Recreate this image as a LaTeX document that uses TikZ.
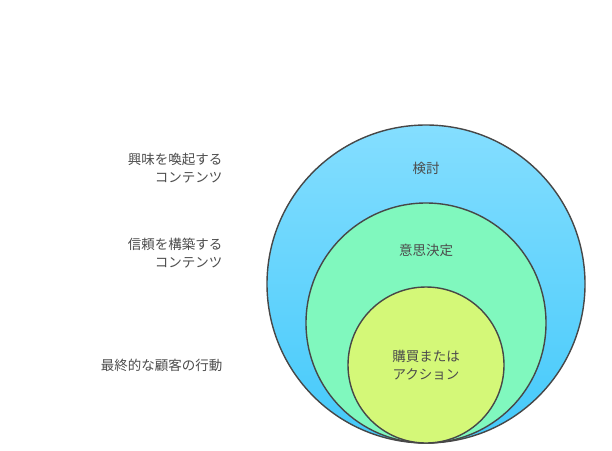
\documentclass[tikz,border=0pt]{standalone}
\usepackage{fontspec}
\setmainfont{Noto Sans CJK JP}
\begin{document}
\begin{tikzpicture}[x=1pt,y=-1pt,
  ring/.style={draw=black!72,line width=1.4pt},
  lbl/.style={text=black!70,font=\fontsize{13.5}{18}\selectfont,align=center},
  side/.style={text=black!70,font=\fontsize{13.5}{18}\selectfont,align=right,anchor=east}]
\useasboundingbox (0,0) rectangle (612,450);
\shade[top color=cyan!45!blue!10!white!80!cyan, bottom color=cyan!70!blue!30!white!70!cyan] (426,284) circle (159);
\definecolor{o1}{HTML}{84DEFF}\definecolor{o2}{HTML}{44C9FA}
\shade[top color=o1,bottom color=o2] (426,284) circle (159);
\node[ring,circle,minimum size=318pt] (outer) at (426,284) {};
\node[ring,circle,fill={rgb,255:red,128;green,248;blue,190},minimum size=240pt] (mid) at (426,323) {};
\node[ring,circle,fill={rgb,255:red,212;green,248;blue,120},minimum size=156pt] (inn) at (426,365) {};
\node[lbl] (t1) at (426,168) {検討};
\node[lbl] (t2) at (426,250) {意思決定};
\node[lbl] (t3) at (426,365) {購買または\\アクション};
\node[side] (s1) at (226,168) {興味を喚起する\\コンテンツ};
\node[side] (s2) at (226,253) {信頼を構築する\\コンテンツ};
\node[side] (s3) at (226,365) {最終的な顧客の行動};
\end{tikzpicture}
\end{document}
